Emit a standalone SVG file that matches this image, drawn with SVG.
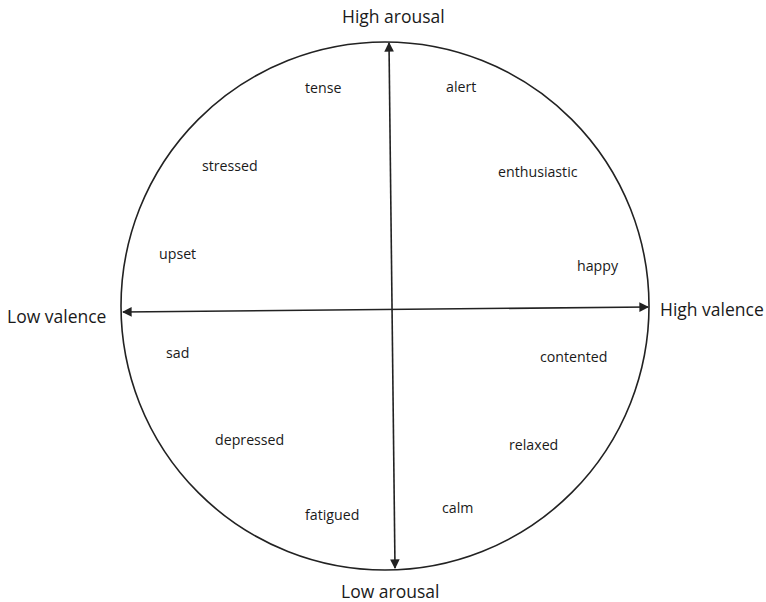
<svg xmlns="http://www.w3.org/2000/svg" width="766" height="602" viewBox="0 0 766 602">
<style>
.lbl{font-family:"Open Sans","Noto Sans",sans-serif;font-size:14.2px;fill:#1a1a1a}
.axis{font-family:"Open Sans","Noto Sans",sans-serif;font-size:17.5px;fill:#1a1a1a}
.ln{stroke:#222;stroke-width:1.6;fill:none}
</style>
<defs>
<marker id="ah" viewBox="0 0 10 10" refX="9" refY="5" markerWidth="6" markerHeight="6" orient="auto-start-reverse" markerUnits="strokeWidth">
<path d="M0,0 L10,5 L0,10 z" fill="#222"/>
</marker>
</defs>
<rect width="766" height="602" fill="#fff"/>
<g id="circle"><circle cx="385" cy="306" r="264" class="ln"/></g>
<g id="connectors">
<line x1="389" y1="43" x2="395" y2="568" class="ln" marker-start="url(#ah)" marker-end="url(#ah)"/>
<line x1="123" y1="312" x2="648" y2="307" class="ln" marker-start="url(#ah)" marker-end="url(#ah)"/>
</g>
<g id="high-arousal"><text class="axis" x="342" y="23">High arousal</text></g>
<g id="low-arousal"><text class="axis" x="341" y="598">Low arousal</text></g>
<g id="low-valence"><text class="axis" x="7" y="323">Low valence</text></g>
<g id="high-valence"><text class="axis" x="660" y="316">High valence</text></g>
<g id="tense"><text class="lbl" x="305" y="93">tense</text></g>
<g id="alert"><text class="lbl" x="446" y="92">alert</text></g>
<g id="stressed"><text class="lbl" x="202" y="171">stressed</text></g>
<g id="enthusiastic"><text class="lbl" x="498" y="177">enthusiastic</text></g>
<g id="upset"><text class="lbl" x="159" y="259">upset</text></g>
<g id="happy"><text class="lbl" x="577" y="271">happy</text></g>
<g id="sad"><text class="lbl" x="166" y="358">sad</text></g>
<g id="contented"><text class="lbl" x="540" y="362">contented</text></g>
<g id="depressed"><text class="lbl" x="215" y="445">depressed</text></g>
<g id="relaxed"><text class="lbl" x="509" y="450">relaxed</text></g>
<g id="fatigued"><text class="lbl" x="305" y="520">fatigued</text></g>
<g id="calm"><text class="lbl" x="442" y="513">calm</text></g>
</svg>
